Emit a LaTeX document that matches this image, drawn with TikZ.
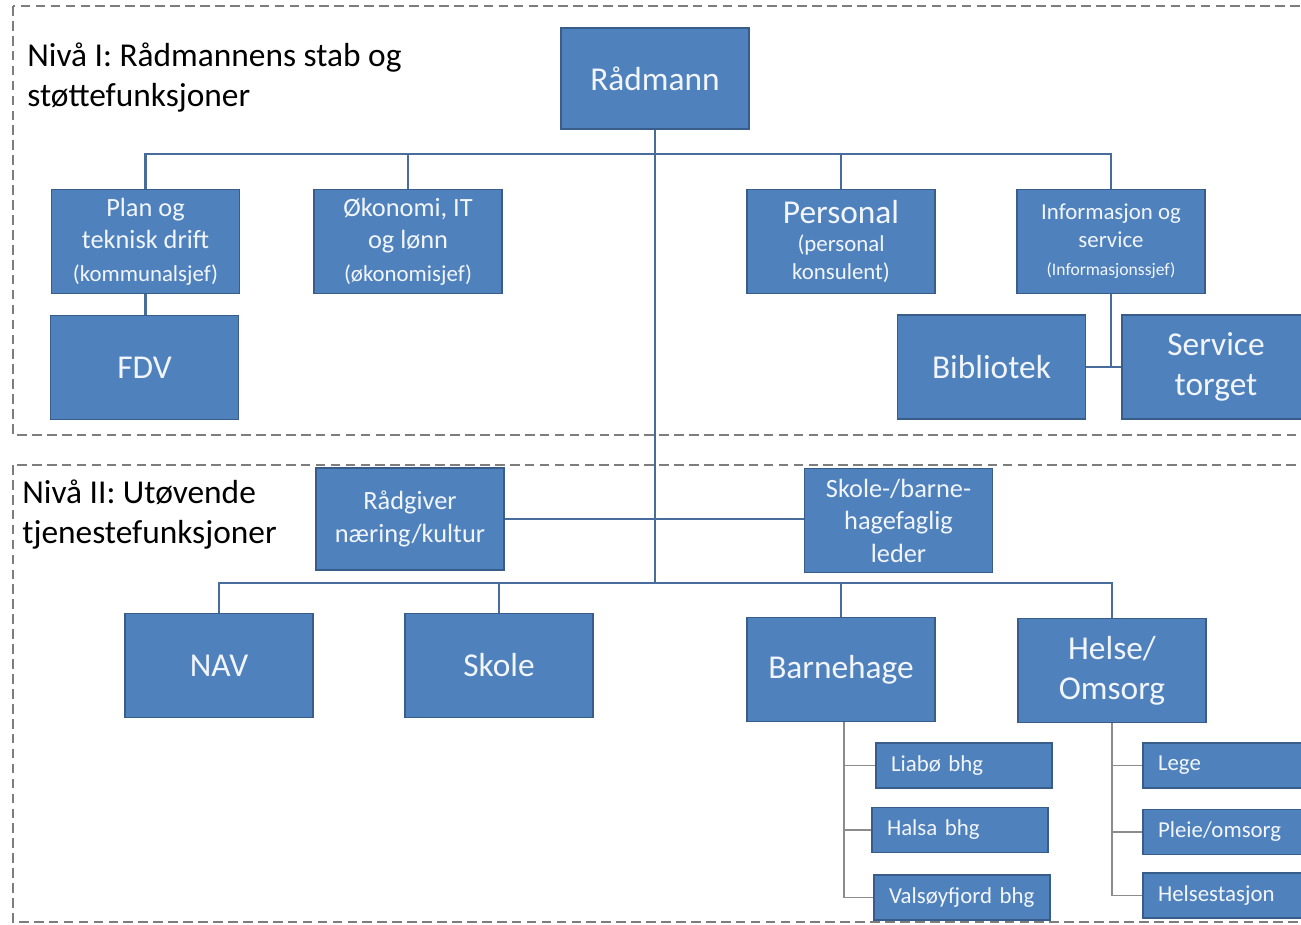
\documentclass[tikz,border=0pt]{standalone}
\usepackage{fontspec}
\setmainfont{Carlito}
\definecolor{boxblue}{RGB}{79,129,189}
\definecolor{boxedge}{RGB}{56,93,138}
\definecolor{boxtext}{RGB}{242,246,252}
\definecolor{linkcol}{RGB}{72,108,156}
\definecolor{subcol}{RGB}{140,140,140}
\definecolor{framegray}{RGB}{125,125,125}
\newcommand{\note}[1]{{\fontsize{13}{16}\selectfont #1}}
\newcommand{\tinynote}[1]{{\fontsize{10}{12}\selectfont #1}}
\newcommand{\bignote}[1]{{\fontsize{19}{23}\selectfont #1}}

\tikzset{
  unit/.style={draw=boxedge, fill=boxblue, text=boxtext, line width=1.1pt, inner sep=2pt,
    align=center, minimum width=3.76cm, minimum height=2.08cm},
  bigunit/.style={unit, font=\fontsize{19}{23}\selectfont},
  midunit/.style={unit, font=\fontsize{15}{18.5}\selectfont},
  smallunit/.style={unit, font=\fontsize{13}{16}\selectfont},
  subunit/.style={draw=boxedge, fill=boxblue, text=boxtext, line width=1.1pt, inner xsep=0.3cm,
    inner ysep=0pt, text width=2.92cm, align=left, minimum height=0.9cm, font=\fontsize{13}{16}\selectfont},
  link/.style={draw=linkcol, line width=1.6pt},
  sublink/.style={draw=subcol, line width=1.1pt},
  levelframe/.style={draw=framegray, line width=1pt, dash pattern=on 5.5pt off 3pt},
  leveltext/.style={anchor=north west, align=left, inner sep=0pt, font=\fontsize{19}{23}\selectfont}
}

\begin{document}
\begin{tikzpicture}[x=0.02cm, y=-0.02cm]
\useasboundingbox (0,0) rectangle (1301,924);
\clip (0,0) rectangle (1301,924);

% the two levels
\draw[levelframe] (13,6) rectangle (1340,435);
\draw[levelframe] (13,465) rectangle (1340,922);
\node[leveltext] (nivaa1) at (27,42) {Nivå I: Rådmannens stab og\\støttefunksjoner};
\node[leveltext] (nivaa2) at (22,479) {Nivå II: Utøvende\\tjenestefunksjoner};

% level I
\node[bigunit, minimum height=2.02cm] (radmann) at (655,78.5) {Rådmann};
\node[midunit] (plan) at (145.5,241.5) {Plan og\\teknisk drift\\\note{(kommunalsjef)}};
\node[midunit] (okonomi) at (408,241.5) {Økonomi, IT\\og lønn\\\note{(økonomisjef)}};
\node[smallunit] (personal) at (841,241.5) {\bignote{Personal}\\(personal\\konsulent)};
\node[smallunit] (info) at (1111,241.5) {Informasjon og\\service\\\tinynote{(Informasjonssjef)}};
\node[bigunit] (fdv) at (144.5,367.5) {FDV};
\node[bigunit] (bibliotek) at (991.5,367) {Bibliotek};
\node[bigunit] (service) at (1216,367) {Service\\torget};

% level II
\node[midunit, minimum height=2.04cm] (radgiver) at (410,519) {Rådgiver\\næring/kultur};
\node[midunit] (skolebarn) at (898.5,520.5) {Skole-/barne-\\hagefaglig\\leder};
\node[bigunit] (nav) at (219,665.5) {NAV};
\node[bigunit] (skole) at (499,665.5) {Skole};
\node[bigunit] (barnehage) at (841,669.5) {Barnehage};
\node[bigunit] (helse) at (1112,670.5) {Helse/\\Omsorg};

\node[subunit] (liabo) at (964,765.5) {Liabø bhg};
\node[subunit] (halsa) at (960,830) {Halsa bhg};
\node[subunit] (valsoy) at (962,897.5) {Valsøyfjord bhg};
\node[subunit] (lege) at (1231,765.5) {Lege};
\node[subunit] (pleie) at (1231,832) {Pleie/omsorg};
\node[subunit] (helsest) at (1231,895.5) {Helsestasjon};

% connectors
\coordinate (topbus) at (655,154);
\coordinate (lowbus) at (655,583);
\draw[link] (radmann.south) -- (lowbus);
\draw[link] (plan.north) |- (topbus) -| (info.north);
\draw[link] (okonomi.north) -- (okonomi.north |- topbus);
\draw[link] (personal.north) -- (personal.north |- topbus);
\draw[link] (plan.south) -- (plan.south |- fdv.north);
\draw[link] (info.south) -- (info.south |- bibliotek.east);
\draw[link] (bibliotek.east) -- (service.west);
\draw[link] (radgiver.east) -- (radgiver.east -| skolebarn.west);
\draw[link] (nav.north) |- (lowbus) -| (helse.north);
\draw[link] (skole.north) -- (skole.north |- lowbus);
\draw[link] (barnehage.north) -- (barnehage.north |- lowbus);

\draw[sublink] ([xshift=0.06cm]barnehage.south) |- (valsoy.west);
\draw[sublink] (liabo.west) -- (liabo.west -| valsoy.west) -- ++(-30,0);
\draw[sublink] (halsa.west) -- ++(-28,0);
\draw[sublink] (helse.south) |- (helsest.west);
\draw[sublink] (lege.west) -- (lege.west -| helse.south);
\draw[sublink] (pleie.west) -- (pleie.west -| helse.south);
\end{tikzpicture}
\end{document}
